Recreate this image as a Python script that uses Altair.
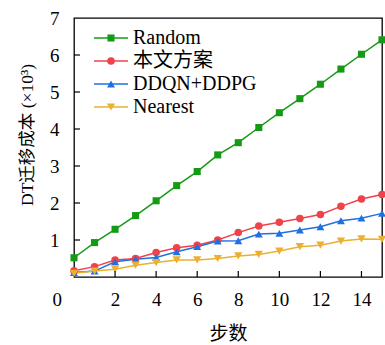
import altair as alt
import pandas as pd

steps = list(range(16))
series_names = ["Random", "本文方案", "DDQN+DDPG", "Nearest"]
random_vals = [0.52, 0.93, 1.29, 1.66, 2.06, 2.47, 2.85, 3.30, 3.63, 4.04, 4.44, 4.82, 5.21, 5.62, 6.02, 6.41]
ours_vals = [0.17, 0.28, 0.46, 0.50, 0.66, 0.79, 0.86, 1.00, 1.20, 1.38, 1.48, 1.58, 1.69, 1.91, 2.11, 2.23]
ddqn_vals = [0.12, 0.16, 0.41, 0.48, 0.53, 0.68, 0.82, 0.97, 0.98, 1.16, 1.18, 1.27, 1.36, 1.52, 1.59, 1.72]
nearest_vals = [0.10, 0.16, 0.21, 0.32, 0.39, 0.46, 0.46, 0.50, 0.57, 0.61, 0.70, 0.82, 0.86, 0.97, 1.03, 1.02]
x_tick_labels = [0, 2, 4, 6, 8, 10, 12, 14]
x_tick_marks = [2, 4, 6, 8, 10, 12, 14]
y_tick_labels = [1, 2, 3, 4, 5, 6, 7]
y_tick_marks = [1, 2, 3, 4, 5, 6]
y_title = "DT迁移成本 (×10³)"
x_title = "步数"

colors = ["#149a14", "#f0424a", "#2170e0", "#ebb032"]
shapes = ["square", "circle", "triangle-up", "triangle-down"]
sizes = [50, 70, 95, 95]

FONT = "Liberation Serif, Noto Sans CJK SC"
W, H = 308, 259

rows = []
for name, vals in zip(series_names, [random_vals, ours_vals, ddqn_vals, nearest_vals]):
    for s, v in zip(steps, vals):
        rows.append({"step": s, "cost": v, "series": name})
df = pd.DataFrame(rows)

x_scale = alt.Scale(domain=[0, 15], nice=False, zero=False)
y_scale = alt.Scale(domain=[0, 7], nice=False)
color_scale = alt.Scale(domain=series_names, range=colors)
shape_scale = alt.Scale(domain=series_names, range=shapes)
size_scale = alt.Scale(domain=series_names, range=sizes)

x_axis = alt.Axis(
    values=x_tick_labels, ticks=False, domain=False, grid=False,
    labelFont=FONT, labelFontSize=19, labelColor="black", labelPadding=13,
    labelOffset={"condition": {"test": "datum.value == 0", "value": -22}, "value": 0},
    title=x_title, titleFont=FONT, titleFontSize=19, titleFontWeight="normal",
    titleColor="black", titlePadding=15,
)
y_axis = alt.Axis(
    values=y_tick_labels, ticks=False, domain=False, grid=False,
    labelFont=FONT, labelFontSize=19, labelColor="black", labelPadding=15,
    title=None,
)

X = alt.X("step:Q", scale=x_scale, axis=x_axis)
Y = alt.Y("cost:Q", scale=y_scale, axis=y_axis)

base = alt.Chart(df)
lines = base.mark_line(strokeWidth=1.5).encode(
    x=X, y=Y,
    color=alt.Color("series:N", scale=color_scale, legend=None),
)
points = base.mark_point(filled=True, opacity=1).encode(
    x=X, y=Y,
    color=alt.Color("series:N", scale=color_scale, legend=None),
    shape=alt.Shape("series:N", scale=shape_scale, legend=None),
    size=alt.Size("series:N", scale=size_scale, legend=None),
)

xt = alt.Chart(pd.DataFrame({"step": x_tick_marks})).mark_rule(color="black", strokeWidth=1.2).encode(
    x=X, y=alt.value(H), y2=alt.value(H - 6),
)
yt = alt.Chart(pd.DataFrame({"cost": y_tick_marks})).mark_rule(color="black", strokeWidth=1.2).encode(
    y=Y, x=alt.value(0), x2=alt.value(6),
)

ytitle = alt.Chart(pd.DataFrame({"t": [y_title]})).mark_text(
    angle=270, align="center", baseline="middle", font=FONT, fontSize=17.5, color="black",
).encode(x=alt.value(-46), y=alt.value(117), text="t:N")

main = alt.layer(lines, points, xt, yt, ytitle)

leg_df = pd.DataFrame({"series": series_names})
leg_y = alt.Y("series:N", scale=alt.Scale(domain=series_names, range=[8.5, 100.5]), axis=None)
leg_base = alt.Chart(leg_df)
leg_rule = leg_base.mark_rule(strokeWidth=1.5).encode(
    y=leg_y, x=alt.value(20), x2=alt.value(54),
    color=alt.Color("series:N", scale=color_scale, legend=None),
)
leg_pt = leg_base.mark_point(filled=True, opacity=1).encode(
    y=leg_y, x=alt.value(37),
    color=alt.Color("series:N", scale=color_scale, legend=None),
    shape=alt.Shape("series:N", scale=shape_scale, legend=None),
    size=alt.Size("series:N", scale=size_scale, legend=None),
)
leg_txt = leg_base.mark_text(align="left", baseline="middle", font=FONT, fontSize=20, color="black").encode(
    y=leg_y, x=alt.value(59), text="series:N",
)
legend = alt.layer(leg_rule, leg_pt, leg_txt)

chart = alt.layer(main, legend).resolve_scale(y="independent").properties(
    width=W, height=H,
    padding={"left": 74, "top": 18, "right": 3, "bottom": 68},
    autosize="none",
    background="white",
).configure_view(stroke="black", strokeWidth=1.3)

chart.save("out.html", embed_options={"renderer": "svg", "actions": False})
